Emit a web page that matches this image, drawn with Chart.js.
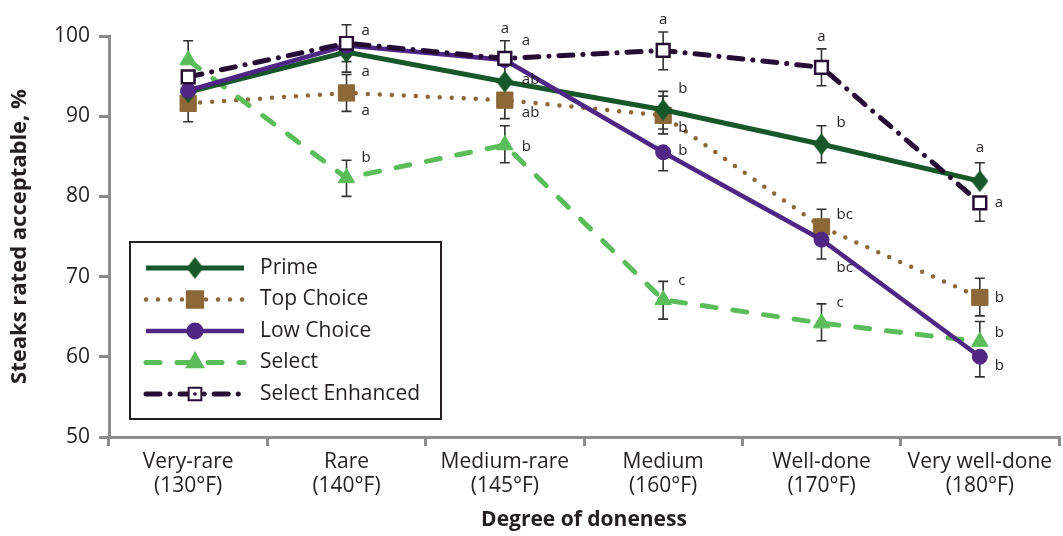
<!DOCTYPE html>
<html lang="en">
<head>
<meta charset="UTF-8">
<title>Steaks rated acceptable by degree of doneness</title>
<script src="https://cdn.jsdelivr.net/npm/chart.js"></script>
<style>
    html, body { margin: 0; padding: 0; background: #ffffff; }
    #wrap { width: 1063px; height: 536px; }
</style>
</head>
<body>
<div id="wrap"><canvas id="doneChart" width="1063" height="536"></canvas></div>
<script>
// categories and series values
const categories = [
    ['Very-rare', '(130°F)'], ['Rare', '(140°F)'], ['Medium-rare', '(145°F)'],
    ['Medium', '(160°F)'], ['Well-done', '(170°F)'], ['Very well-done', '(180°F)']
];
const yTicks = { min: 50, max: 100, step: 10 };

const prime     = [93.0, 98.0, 94.3, 90.8, 86.5, 81.9];
const topChoice = [91.6, 92.9, 92.0, 90.1, 76.2, 67.4];
const lowChoice = [93.2, 98.8, 97.0, 85.5, 74.6, 60.0];
const select    = [97.0, 82.3, 86.4, 67.1, 64.2, 61.9];
const selectEnh = [94.9, 99.1, 97.2, 98.2, 96.1, 79.2];

// error bar ends (null = not visible in the figure)
const primeHi = [null, null, null, 93.1, 88.8, 84.2];
const primeLo = [null, 96.8, null, 88.4, 84.2, null];
const topHi   = [null, 95.2, null, 92.5, 78.4, 69.8];
const topLo   = [89.3, 90.6, 89.7, 87.8, null, 65.1];
const lowHi   = [null, null, null, null, null, null];
const lowLo   = [null, 95.5, 94.7, 83.2, 72.2, 57.5];
const selHi   = [99.4, 84.5, 88.8, 69.4, 66.6, 64.4];
const selLo   = [null, 80.0, 84.2, 64.7, 62.0, null];
const seHi    = [null, 101.4, 99.4, 100.5, 98.4, null];
const seLo    = [null, null, null, 95.8, 93.8, 76.9];

// significance letters
const primeLbl = ['', 'a', 'ab', 'b', 'b', 'a'];
const topLbl   = ['', 'a', 'ab', 'b', 'bc', 'b'];
const lowLbl   = ['', '', 'a', 'b', 'bc', 'b'];
const selLbl   = ['', 'b', 'b', 'c', 'c', 'b'];
const seLbl    = ['', 'a', 'a', 'a', 'a', 'a'];

// letter placement in pixels: [dx, dy], dx 0 = centred above
const primeOff = [null, [15, 20], [17, -2], [15, -21], [15, -22], [0, -33]];
const topOff   = [null, [15, 18], [17, 13], [15, 12], [15, -12], [15, 0]];
const lowOff   = [null, null, [17, -19], [15, -2], [15, 28], [15, 9]];
const selOff   = [null, [15, -20], [17, 2], [15, -19], [15, -20], [15, -9]];
const seOff    = [null, [15, -12], [0, -30], [0, -31], [0, -31], [15, 0]];

const colors = {
    prime: '#18572a',
    top: '#8c6839',
    low: '#4f2683',
    select: '#5bbd5a',
    se: '#240c33',
    axis: '#8c8c8c',
    ink: '#231f20'
};
const fontFamily = "'Open Sans', 'Noto Sans', sans-serif";

// tall diamond marker for Prime
const diamond = document.createElement('canvas');
diamond.width = 17;
diamond.height = 22;
(function () {
    const c = diamond.getContext('2d');
    c.fillStyle = colors.prime;
    c.beginPath();
    c.moveTo(8.5, 0); c.lineTo(17, 11); c.lineTo(8.5, 22); c.lineTo(0, 11);
    c.closePath();
    c.fill();
})();

const errorBars = {
    id: 'errorBars',
    beforeDatasetsDraw(chart) {
        const ctx = chart.ctx, xs = chart.scales.x, ys = chart.scales.y;
        ctx.save();
        ctx.strokeStyle = '#333333';
        ctx.lineWidth = 1.6;
        chart.data.datasets.forEach(ds => {
            ds.data.forEach((v, i) => {
                const px = xs.getPixelForValue(i);
                const py = ys.getPixelForValue(v);
                [ds.errHi[i], ds.errLo[i]].forEach(end => {
                    if (end == null) return;
                    const pe = ys.getPixelForValue(end);
                    ctx.beginPath();
                    ctx.moveTo(px, py);
                    ctx.lineTo(px, pe);
                    ctx.moveTo(px - 5, pe);
                    ctx.lineTo(px + 5, pe);
                    ctx.stroke();
                });
            });
        });
        ctx.restore();
    }
};

const letters = {
    id: 'letters',
    afterDatasetsDraw(chart) {
        const ctx = chart.ctx, xs = chart.scales.x, ys = chart.scales.y;
        ctx.save();
        ctx.fillStyle = colors.ink;
        ctx.font = '15px ' + fontFamily;
        ctx.textBaseline = 'middle';
        chart.data.datasets.forEach(ds => {
            ds.data.forEach((v, i) => {
                const txt = ds.letters[i], off = ds.letterOff[i];
                if (!txt || !off) return;
                const px = xs.getPixelForValue(i);
                const py = ys.getPixelForValue(v);
                ctx.textAlign = off[0] === 0 ? 'center' : 'left';
                ctx.fillText(txt, px + off[0], py + off[1]);
            });
        });
        ctx.restore();
    }
};

const boxLegend = {
    id: 'boxLegend',
    afterDraw(chart) {
        const ctx = chart.ctx, ca = chart.chartArea;
        const left = ca.left + 21, top = ca.top + 206, w = 311, h = 177;
        ctx.save();
        ctx.fillStyle = '#ffffff';
        ctx.fillRect(left, top, w, h);
        ctx.strokeStyle = colors.ink;
        ctx.lineWidth = 2;
        ctx.strokeRect(left, top, w, h);
        chart.data.datasets.forEach((ds, i) => {
            const ry = top + 26 + i * 31.5;
            ctx.save();
            ctx.strokeStyle = ds.borderColor;
            ctx.lineWidth = ds.borderWidth;
            ctx.lineCap = ds.borderCapStyle || 'butt';
            ctx.setLineDash(ds.borderDash || []);
            ctx.beginPath();
            ctx.moveTo(left + 16, ry);
            ctx.lineTo(left + 114, ry);
            ctx.stroke();
            ctx.restore();
            ctx.fillStyle = ds.pointBackgroundColor;
            ctx.strokeStyle = ds.pointBorderColor;
            Chart.helpers.drawPoint(ctx, {
                pointStyle: ds.pointStyle, radius: ds.pointRadius,
                borderWidth: ds.pointBorderWidth, rotation: 0
            }, left + 65, ry);
            if (ds.legendDot) {
                ctx.fillStyle = ds.borderColor;
                ctx.beginPath();
                ctx.arc(left + 65, ry, 1.8, 0, Math.PI * 2);
                ctx.fill();
            }
            ctx.fillStyle = colors.ink;
            ctx.font = '21px ' + fontFamily;
            ctx.textAlign = 'left';
            ctx.textBaseline = 'middle';
            ctx.fillText(ds.label, left + 130, ry);
        });
        ctx.restore();
    }
};

const ctx = document.getElementById('doneChart').getContext('2d');
const doneChart = new Chart(ctx, {
    type: 'line',
    data: {
        labels: categories,
        datasets: [
            {
                label: 'Prime', data: prime, order: 2,
                borderColor: colors.prime, borderWidth: 5,
                pointStyle: diamond, pointRadius: 10, pointBorderWidth: 0,
                pointBackgroundColor: colors.prime, pointBorderColor: colors.prime,
                errHi: primeHi, errLo: primeLo, letters: primeLbl, letterOff: primeOff
            },
            {
                label: 'Top Choice', data: topChoice, order: 4,
                borderColor: colors.top, borderWidth: 4.5,
                borderDash: [0, 12], borderCapStyle: 'round',
                pointStyle: 'rect', pointRadius: 11.5, pointBorderWidth: 1,
                pointBackgroundColor: colors.top, pointBorderColor: colors.top,
                errHi: topHi, errLo: topLo, letters: topLbl, letterOff: topOff
            },
            {
                label: 'Low Choice', data: lowChoice, order: 1,
                borderColor: colors.low, borderWidth: 4.5,
                pointStyle: 'circle', pointRadius: 7.5, pointBorderWidth: 1,
                pointBackgroundColor: colors.low, pointBorderColor: colors.low,
                errHi: lowHi, errLo: lowLo, letters: lowLbl, letterOff: lowOff
            },
            {
                label: 'Select', data: select, order: 3,
                borderColor: colors.select, borderWidth: 5,
                borderDash: [14, 17], borderCapStyle: 'round',
                pointStyle: 'triangle', pointRadius: 9.5, pointBorderWidth: 1,
                pointBackgroundColor: colors.select, pointBorderColor: colors.select,
                errHi: selHi, errLo: selLo, letters: selLbl, letterOff: selOff
            },
            {
                label: 'Select Enhanced', data: selectEnh, order: 0,
                borderColor: colors.se, borderWidth: 5,
                borderDash: [14, 10, 0.1, 10], borderCapStyle: 'round',
                pointStyle: 'rect', pointRadius: 9, pointBorderWidth: 2.5,
                pointBackgroundColor: '#ffffff', pointBorderColor: colors.se,
                legendDot: true,
                errHi: seHi, errLo: seLo, letters: seLbl, letterOff: seOff
            }
        ]
    },
    options: {
        responsive: false,
        animation: false,
        events: [],
        layout: { autoPadding: false, padding: { left: 0, right: 4, top: 36, bottom: 0 } },
        elements: { line: { tension: 0, fill: false } },
        plugins: {
            legend: { display: false },
            tooltip: { enabled: false }
        },
        scales: {
            x: {
                type: 'category',
                offset: true,
                afterFit(scale) {
                    scale.height = 99;
                    scale.paddingLeft = 0;
                    scale.paddingRight = 0;
                },
                grid: {
                    display: true, drawOnChartArea: false, offset: true,
                    tickLength: 9, tickColor: colors.axis, lineWidth: 3
                },
                border: { color: colors.axis, width: 3 },
                ticks: {
                    color: colors.ink, padding: 4,
                    font: { family: fontFamily, size: 21, lineHeight: 1.15 }
                },
                title: {
                    display: true, text: 'Degree of doneness', color: colors.ink,
                    font: { family: fontFamily, size: 21, weight: 'bold' },
                    padding: { top: 0, bottom: 3 }
                }
            },
            y: {
                min: yTicks.min, max: yTicks.max,
                afterFit(scale) { scale.width = 109; },
                grid: {
                    display: true, drawOnChartArea: false,
                    tickLength: 10, tickColor: colors.axis, lineWidth: 3
                },
                border: { color: colors.axis, width: 3 },
                ticks: {
                    stepSize: yTicks.step, color: colors.ink, padding: 9,
                    font: { family: fontFamily, size: 21 }
                },
                title: {
                    display: true, text: 'Steaks rated acceptable, %', color: colors.ink,
                    font: { family: fontFamily, size: 22, weight: 'bold' },
                    padding: { top: 7, bottom: 0 }
                }
            }
        }
    },
    plugins: [errorBars, letters, boxLegend]
});
</script>
</body>
</html>
